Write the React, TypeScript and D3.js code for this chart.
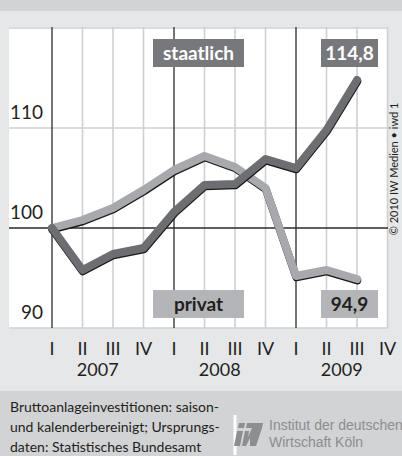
import React from "react";
import * as d3 from "d3";

const quarters = ["I", "II", "III", "IV", "I", "II", "III", "IV", "I", "II", "III", "IV"];
const years = ["2007", "2008", "2009"];
const staatlich = [100, 95.8, 97.4, 98.0, 101.6, 104.3, 104.4, 106.9, 106.0, 109.8, 114.8];
const privat = [100, 100.8, 102.0, 103.8, 105.8, 107.2, 106.1, 104.0, 95.2, 95.8, 94.9];
const yTicks = [90, 100, 110];
const gridY = [90, 110, 120];
const seriesNames = ["staatlich", "privat"];
const endLabels = ["114,8", "94,9"];
const footerLines = [
  "Bruttoanlageinvestitionen: saison-",
  "und kalenderbereinigt; Ursprungs-",
  "daten: Statistisches Bundesamt",
];
const instituteLines = ["Institut der deutschen", "Wirtschaft Köln"];
const copyright = "© 2010 IW Medien • iwd 1";

const W = 402;
const H = 456;
const font = "Lato, 'Open Sans', sans-serif";

export default function App() {
  const x = d3.scaleLinear().domain([0, 11]).range([52, 387.5]);
  const y = d3.scaleLinear().domain([90, 120]).range([328, 28]);
  const line = d3
    .line<number>()
    .x((_, i) => x(i))
    .y((d) => y(d));

  const darkCol = "#6d6e71";
  const lightCol = "#a7a9ac";

  return (
    <svg
      width={W}
      height={H}
      style={{ position: "absolute", left: 0, top: 0, display: "block" }}
      fontFamily={font}
    >
      <rect x={0} y={0} width={W} height={H} fill="#e6e7e8" />
      <rect x={0} y={0} width={W} height={11} fill="#d1d3d4" />
      <rect x={0} y={391} width={W} height={H - 391} fill="#d1d3d4" />
      <rect x={9} y={27} width={379} height={301} fill="#ffffff" />

      {/* vertical grid */}
      {quarters.map((q, i) =>
        i % 4 === 0 ? null : (
          <line key={"v" + i} x1={x(i)} x2={x(i)} y1={27} y2={328} stroke="#cfd0d2" strokeWidth={1.6} />
        )
      )}
      {gridY.map((v) => (
        <line key={"h" + v} x1={9} x2={388} y1={y(v)} y2={y(v)} stroke="#cfd0d2" strokeWidth={1.6} />
      ))}
      {quarters.map((q, i) =>
        i % 4 === 0 ? (
          <line key={"vd" + i} x1={x(i)} x2={x(i)} y1={27} y2={328} stroke="#3a3a3a" strokeWidth={1.4} />
        ) : null
      )}
      <line x1={9} x2={388} y1={y(100)} y2={y(100)} stroke="#2a2a2a" strokeWidth={1.4} />

      {/* y labels */}
      {yTicks.map((v) => (
        <text key={"yl" + v} x={43} y={y(v) - 9} textAnchor="end" fontSize={19} fill="#231f20">
          {v}
        </text>
      ))}

      {/* lines */}
      {[privat, staatlich].map((s, k) => (
        <g key={"s" + k}>
          <path
            d={line(s) || ""}
            transform="translate(0.3,1.3)"
            fill="none"
            stroke="#1a1a1a"
            strokeWidth={8}
            strokeLinejoin="round"
            strokeLinecap="round"
          />
          <path
            d={line(s) || ""}
            fill="none"
            stroke={k === 0 ? lightCol : darkCol}
            strokeWidth={8}
            strokeLinejoin="round"
            strokeLinecap="round"
          />
        </g>
      ))}

      {/* label boxes */}
      <rect x={153} y={39} width={91} height={28} fill="#77787b" />
      <text x={198.5} y={60} textAnchor="middle" fontSize={19} fontWeight={700} fill="#ffffff">
        {seriesNames[0]}
      </text>
      <rect x={321} y={39} width={57} height={28} fill="#77787b" />
      <text x={349.5} y={60} textAnchor="middle" fontSize={19} fontWeight={700} fill="#ffffff">
        {endLabels[0]}
      </text>
      <rect x={153} y={290} width={91} height={28} fill="#b3b5b8" />
      <text x={198.5} y={311} textAnchor="middle" fontSize={19} fontWeight={700} fill="#231f20">
        {seriesNames[1]}
      </text>
      <rect x={321} y={290} width={57} height={28} fill="#b3b5b8" />
      <text x={349.5} y={311} textAnchor="middle" fontSize={19} fontWeight={700} fill="#231f20">
        {endLabels[1]}
      </text>

      {/* x labels */}
      {quarters.map((q, i) => (
        <text key={"q" + i} x={x(i)} y={355} textAnchor="middle" fontSize={18} fill="#231f20">
          {q}
        </text>
      ))}
      {years.map((yr, k) => (
        <text key={"y" + k} x={x(k * 4 + 1.5)} y={376} textAnchor="middle" fontSize={18} fill="#231f20">
          {yr}
        </text>
      ))}

      {/* copyright */}
      <text
        transform="translate(398,169) rotate(-90)"
        textAnchor="middle"
        fontSize={11}
        fill="#231f20"
      >
        {copyright}
      </text>

      {/* footer */}
      {footerLines.map((t, i) => (
        <text key={"f" + i} x={10} y={412 + i * 20} fontSize={14} fill="#231f20">
          {t}
        </text>
      ))}

      {/* logo */}
      <rect x={233.5} y={415} width={3} height={40} fill="#ffffff" />
      <path d="M239,423 L245,423 L244,428 L238,428 Z" fill="#8c8e90" />
      <path d="M237,431 L243,431 L240,446 L234,446 Z" fill="#8c8e90" />
      <path d="M247,423 L263,423 L262,428 L256,446 L250,446 L250,438 L246,446 L242,446 L245,431 L249,431 L248,437 L252,428 L246,428 Z" fill="#8c8e90" />
      {instituteLines.map((t, i) => (
        <text
          key={"in" + i}
          x={269}
          y={430 + i * 17}
          fontSize={14}
          fontFamily="'Liberation Sans', Arial, sans-serif"
          fill="#8c8e90"
        >
          {t}
        </text>
      ))}
    </svg>
  );
}
